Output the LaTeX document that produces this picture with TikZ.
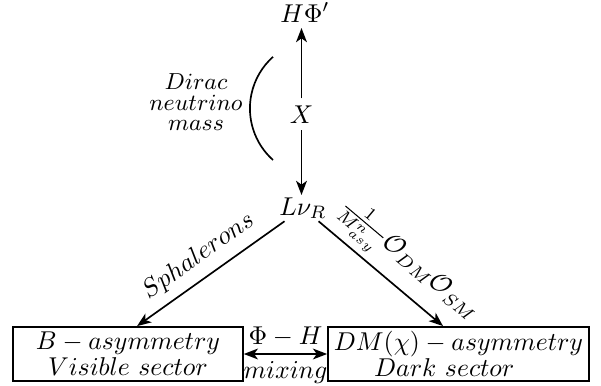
\documentclass[tikz,border=0pt]{standalone}
\usetikzlibrary{arrows.meta}
\begin{document}
\begin{tikzpicture}[x=0.388pt,y=-0.388pt,
  line width=0.65pt,
  tip/.tip={Stealth[length=5.5pt,width=4.2pt,inset=1.5pt]},
  arr/.style={-tip},
  darr/.style={tip-tip},
  sector/.style={draw, rectangle, inner sep=0pt, minimum height=21pt, align=center},
  ]
\useasboundingbox (0,0) rectangle (601,386);
\node[anchor=base, inner sep=2pt] (hphi) at (305,22) {$H\Phi'$};
\node[anchor=base, inner sep=2.4pt] (x) at (301.5,123) {$X$};
\node[anchor=base, inner sep=0.6pt] (lnu) at (303,215) {$L\nu_R$};
\node[anchor=north, inner sep=0pt, align=center, font=\fontsize{9.5}{7.9}\selectfont] (dirac) at (196,73) {$Dirac$\\$neutrino$\\$mass$};
\node[sector, minimum width=89.2pt] (vis) at (128,354) {$B-asymmetry$\\[-2pt]$Visible\ sector$};
\node[sector, minimum width=101.3pt] (dark) at (458.5,354) {$DM(\chi)-asymmetry$\\[-2pt]$Dark\ sector$\hspace*{11pt}};
\draw[arr] (x.north) -- (x.north |- hphi.south);
\draw[arr] (x.south) -- (x.south |- lnu.north);
\draw (273,160) arc[start angle=131.8, end angle=228.2, radius=69.2];
\draw[arr] (lnu) -- ([xshift=3.5pt]vis.north) node[midway, sloped, above, inner sep=3.5pt] {$Sphalerons$};
\draw[arr] (lnu) -- ([xshift=-6pt]dark.north) node[pos=0.58, sloped, above, inner sep=2pt] {$\frac{1}{M^n_{asy}}\mathcal{O}_{DM}\mathcal{O}_{SM}$};
\draw[darr] (vis.east) -- (dark.west)
  node[midway, above, inner sep=2.4pt] {$\Phi-H$}
  node[midway, below, inner sep=2.5pt] {$mixing$};
\end{tikzpicture}
\end{document}
